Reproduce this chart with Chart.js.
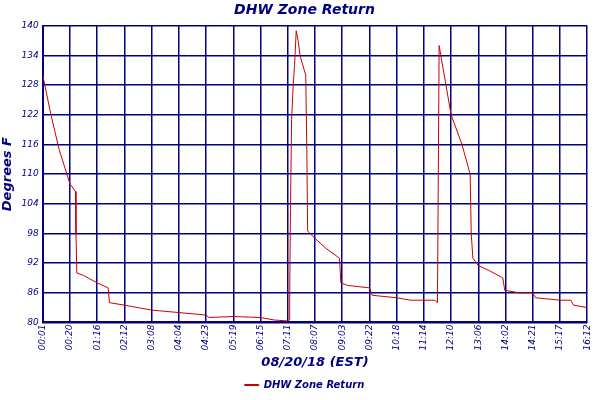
<!DOCTYPE html>
<html>
<head>
<meta charset="utf-8">
<script src="https://cdn.jsdelivr.net/npm/chart.js@4"></script>
<style>
  body { margin: 0; background: #fff; }
  #wrap { width: 600px; height: 400px; }
</style>
</head>
<body>
<div id="wrap"><canvas id="chart"></canvas></div>
<script>
// tick labels along the bottom, evenly spaced
const timeLabels = ['00:01', '00:20', '01:16', '02:12', '03:08', '04:04', '04:23', '05:19', '06:15', '07:11',
    '08:07', '09:03', '09:22', '10:18', '11:14', '12:10', '13:06', '14:02', '14:21', '15:17', '16:12'];

// position along the axis (in label steps) and temperature
const xPos = [0, 0.3, 0.6, 1.0, 1.2, 1.22, 1.25, 1.5, 2.0, 2.4, 2.45, 3.0, 3.5, 4.0, 5.0, 6.0, 6.1, 7.0, 8.0, 8.5, 9.0, 9.05,
    9.07, 9.1, 9.14, 9.2, 9.25, 9.31, 9.38, 9.45, 9.66, 9.7, 9.73, 10.0, 10.4, 10.9, 10.95, 11.2, 12.0, 12.1, 13.0, 13.5, 14.4,
    14.5, 14.53, 14.56, 15.0, 15.4, 15.7, 15.74, 15.8, 16.0, 16.4, 16.9, 16.97, 17.5, 18.0, 18.1, 19.0, 19.4, 19.5, 20.0];
const tempF = [130, 122, 115, 108, 106.5, 98, 90, 89.5, 88, 87, 84, 83.5, 83, 82.5, 82, 81.5, 81, 81.2, 81, 80.5, 80.3, 80.5,
    85, 103, 121, 128, 132, 139, 137, 134, 130, 115, 98.5, 97, 95, 93, 88, 87.5, 87, 85.5, 85, 84.5, 84.5,
    84, 110, 136, 122, 116, 110, 98, 93, 91.5, 90.5, 89, 86.5, 86, 86, 85, 84.5, 84.5, 83.5, 83];

const yTicks = [80, 86, 92, 98, 104, 110, 116, 122, 128, 134, 140];

const navy = '#000080';
const font = (size) => ({ family: 'DejaVu Sans', size: size, style: 'italic', weight: 'bold' });

new Chart(document.getElementById('chart'), {
    type: 'line',
    data: {
        datasets: [{
            label: 'DHW Zone Return',
            data: xPos.map((x, i) => ({ x: x, y: tempF[i] })),
            borderColor: '#cc0000',
            backgroundColor: '#cc0000',
            borderWidth: 1,
            pointRadius: 0,
            tension: 0
        }]
    },
    options: {
        responsive: true,
        maintainAspectRatio: false,
        animation: false,
        layout: { padding: { left: 0, right: -9, top: 0, bottom: 0 } },
        plugins: {
            title: {
                display: true,
                text: 'DHW Zone Return',
                color: navy,
                font: font(14),
                padding: { top: 2, bottom: 7 }
            },
            legend: {
                position: 'bottom',
                labels: {
                    color: navy,
                    font: font(10),
                    boxWidth: 14,
                    boxHeight: 1
                }
            },
            tooltip: { enabled: false }
        },
        scales: {
            x: {
                type: 'linear',
                min: 0,
                max: timeLabels.length - 1,
                afterBuildTicks: (axis) => { axis.ticks = timeLabels.map((_, i) => ({ value: i })); },
                ticks: {
                    color: navy,
                    font: { family: 'DejaVu Sans', size: 9, style: 'italic' },
                    minRotation: 90,
                    maxRotation: 90,
                    padding: 2,
                    callback: (value) => timeLabels[value]
                },
                grid: { color: navy, lineWidth: 1.5, drawTicks: false },
                border: { color: navy, width: 2 },
                title: {
                    display: true,
                    text: '08/20/18 (EST)',
                    color: navy,
                    font: font(13),
                    padding: { top: 2, bottom: 0 }
                }
            },
            y: {
                min: 80,
                max: 140,
                afterBuildTicks: (axis) => { axis.ticks = yTicks.map(v => ({ value: v })); },
                ticks: {
                    color: navy,
                    font: { family: 'DejaVu Sans', size: 9, style: 'italic' },
                    padding: 4
                },
                grid: { color: navy, lineWidth: 1.5, drawTicks: false },
                border: { color: navy, width: 2 },
                title: {
                    display: true,
                    text: 'Degrees F',
                    color: navy,
                    font: font(13),
                    padding: { top: 0, bottom: 2 }
                }
            }
        }
    }
});
</script>
</body>
</html>
